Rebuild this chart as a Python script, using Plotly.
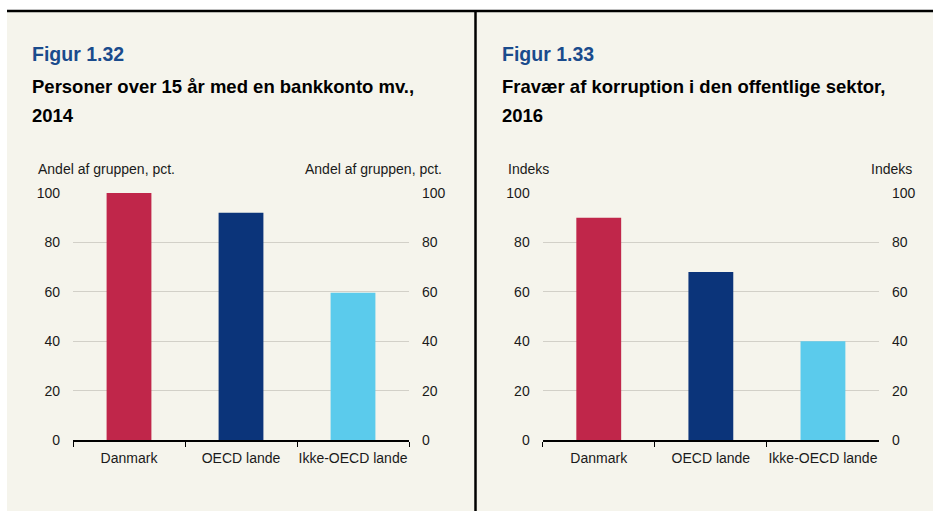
import plotly.graph_objects as go

W, H = 933, 511

categories = ["Danmark", "OECD lande", "Ikke-OECD lande"]
bank_values = [100, 92, 59.6]
corruption_values = [90, 68, 40]
bar_colors = ["#C0264A", "#0B347A", "#5BCBEC"]
y_ticks = [0, 20, 40, 60, 80, 100]

fig_titles = ["Figur 1.32", "Figur 1.33"]
subtitles = [["Personer over 15 år med en bankkonto mv.,", "2014"],
             ["Fravær af korruption i den offentlige sektor,", "2016"]]
axis_titles = ["Andel af gruppen, pct.", "Indeks"]

FONT = "Liberation Sans, Arial, sans-serif"
CREAM = "#F5F4EC"
GRID = "#D2D0C8"
TXT = "#1a1a1a"


def px(x):
    return x / W


def py(y):
    return 1 - y / H


fig = go.Figure()

panels = [
    dict(vals=bank_values, xd=[px(73), px(409)], xa="x", ya="y", ya2="y2"),
    dict(vals=corruption_values, xd=[px(542.7), px(879)], xa="x2", ya="y3", ya2="y4"),
]

for p in panels:
    fig.add_trace(go.Bar(x=categories, y=p["vals"], marker=dict(color=bar_colors, line=dict(width=0)),
                         width=0.4, xaxis=p["xa"], yaxis=p["ya"], showlegend=False, hoverinfo="skip"))
    fig.add_trace(go.Scatter(x=categories, y=p["vals"], mode="markers", marker=dict(opacity=0),
                             xaxis=p["xa"], yaxis=p["ya2"], showlegend=False, hoverinfo="skip"))

ydom = [py(440), py(193)]

common_x = dict(type="category", range=[-0.5, 2.5], showline=True, linecolor="black", linewidth=1.5,
                ticks="outside", tickson="boundaries", ticklen=5, tickcolor="black", tickwidth=1,
                tickangle=0, showgrid=False, zeroline=False, automargin=False, ticklabelstandoff=4,
                tickfont=dict(family=FONT, size=14, color=TXT), fixedrange=True)
common_y = dict(range=[0, 100], tickvals=y_ticks, showgrid=True, gridcolor=GRID, gridwidth=1,
                zeroline=False, showline=False, ticks="", domain=ydom, automargin=False,
                tickfont=dict(family=FONT, size=14, color=TXT), ticklabelstandoff=12, fixedrange=True)

layout = dict(
    width=W, height=H, margin=dict(l=0, r=0, t=0, b=0, pad=0, autoexpand=False),
    paper_bgcolor="white", plot_bgcolor="rgba(0,0,0,0)",
    showlegend=False,
    font=dict(family=FONT, color=TXT),
    xaxis=dict(common_x, domain=panels[0]["xd"], anchor="y"),
    xaxis2=dict(common_x, domain=panels[1]["xd"], anchor="y3"),
    yaxis=dict(common_y, anchor="x", side="left"),
    yaxis2=dict(common_y, anchor="x", side="right", overlaying="y", showgrid=False),
    yaxis3=dict(common_y, anchor="x2", side="left"),
    yaxis4=dict(common_y, anchor="x2", side="right", overlaying="y3", showgrid=False),
)
fig.update_layout(**layout)

shapes = [
    dict(type="rect", xref="paper", yref="paper", x0=px(7), x1=1, y0=0, y1=py(11),
         fillcolor=CREAM, line=dict(width=0), layer="below"),
    dict(type="line", xref="paper", yref="paper", x0=px(7), x1=1, y0=py(11), y1=py(11),
         line=dict(color="black", width=2.5)),
    dict(type="line", xref="paper", yref="paper", x0=px(475.5), x1=px(475.5), y0=0, y1=py(11),
         line=dict(color="black", width=2.5)),
]
fig.update_layout(shapes=shapes)

ann = []
offsets = [0, 470]
right_ends = [444, 914]
for i in range(2):
    ox = offsets[i]
    ann.append(dict(text="<b>%s</b>" % fig_titles[i], x=px(30 + ox), y=py(54), xref="paper", yref="paper",
                    xanchor="left", yanchor="middle", showarrow=False,
                    font=dict(family=FONT, size=19.5, color="#1A4B8C")))
    for j, line in enumerate(subtitles[i]):
        ann.append(dict(text="<b>%s</b>" % line, x=px(30 + ox), y=py(86 + 29.5 * j), xref="paper", yref="paper",
                        xanchor="left", yanchor="middle", showarrow=False,
                        font=dict(family=FONT, size=18.5, color="black")))
    ann.append(dict(text=axis_titles[i], x=px(36 + ox), y=py(169), xref="paper", yref="paper",
                    xanchor="left", yanchor="middle", showarrow=False,
                    font=dict(family=FONT, size=14, color=TXT)))
    ann.append(dict(text=axis_titles[i], x=px(right_ends[i]), y=py(169), xref="paper", yref="paper",
                    xanchor="right", yanchor="middle", showarrow=False,
                    font=dict(family=FONT, size=14, color=TXT)))
fig.update_layout(annotations=ann)

post = "document.body.style.margin='0';document.body.style.overflow='hidden';"
fig.write_html("out.html", config={"displayModeBar": False}, post_script=post)
